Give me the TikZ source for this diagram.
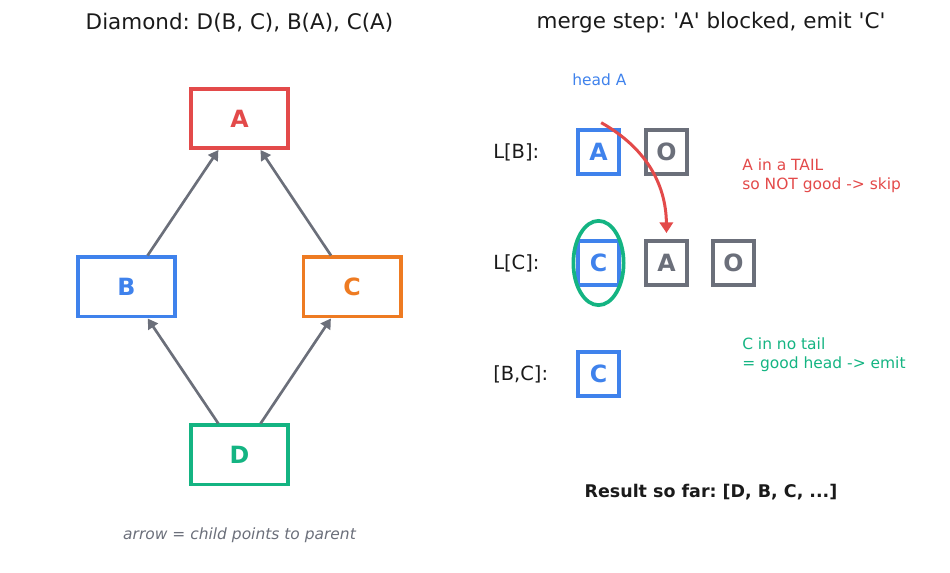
\documentclass[tikz,border=0pt]{standalone}
\usepackage{fontspec}
\setmainfont{DejaVu Sans}
\frenchspacing
\usetikzlibrary{arrows.meta, positioning, shapes.geometric}
\definecolor{headred}{HTML}{E34A4A}
\definecolor{headblue}{HTML}{3F82EC}
\definecolor{headorange}{HTML}{EE7B22}
\definecolor{headgreen}{HTML}{14B482}
\definecolor{tailgrey}{HTML}{6B6F7A}
\definecolor{inkblack}{HTML}{1A1A1A}
\tikzset{
  dagbox/.style={rectangle, draw=#1, text=#1, line width=2.8pt,
                 minimum width=72.95pt, minimum height=44.45pt, inner sep=0,
                 font=\fontsize{17.8}{21}\selectfont\bfseries},
  cellbox/.style={rectangle, draw=#1, text=#1, line width=2.8pt,
                  minimum width=30.95pt, minimum height=33.2pt, inner sep=0,
                  font=\fontsize{17.8}{21}\selectfont\bfseries},
  parentlink/.style={-{Triangle[length=7.5pt,width=8.5pt]}, line width=2pt, draw=tailgrey},
  skiparrow/.style={-{Triangle[length=8pt,width=10pt]}, line width=2.25pt, draw=headred},
  goodring/.style={ellipse, draw=headgreen, line width=2.8pt, inner sep=0,
                   minimum width=37.7pt, minimum height=63.2pt},
  paneltitle/.style={text=inkblack, font=\fontsize{16.1}{19}\selectfont},
  rowlabel/.style={anchor=west, inner sep=0, text=inkblack, font=\fontsize{14.6}{17}\selectfont},
  notetext/.style={anchor=west, inner sep=0, align=left, font=\fontsize{11.6}{13.9}\selectfont},
}

\begin{document}
\frenchspacing
\begin{tikzpicture}[x=0.75pt, y=-0.75pt, node distance=17.25pt]
  \useasboundingbox (0,0) rectangle (950,573);

  % left panel: the diamond
  \node[paneltitle] (ltitle) at (239.5,23) {Diamond: D(B, C), B(A), C(A)};
  \node[dagbox=headred]    (A) at (239.5,118.5) {A};
  \node[dagbox=headblue]   (B) at (126.5,287)   {B};
  \node[dagbox=headorange] (C) at (352,287)     {C};
  \node[dagbox=headgreen]  (D) at (239.5,455)   {D};

  \draw[parentlink] (B) -- (A);
  \draw[parentlink] (C) -- (A);
  \draw[parentlink] (D) -- (B);
  \draw[parentlink] (D) -- (C);

  \node[text=tailgrey, font=\fontsize{11.6}{13.9}\selectfont\itshape] (caption) at (239.5,535)
        {arrow = child points to parent};

  % right panel: one merge step
  \node[paneltitle] (rtitle) at (711,23)
        {merge step: \textquotesingle A\textquotesingle{} blocked, emit \textquotesingle C\textquotesingle};
  \node[notetext, text=headblue] (headA) at (572,80) {head A};

  \node[rowlabel] (LBlabel) at (493,152) {L[B]:};
  \node[cellbox=headblue] (LBa) at (598.5,152) {A};
  \node[cellbox=tailgrey, right=of LBa] (LBo) {O};

  \node[rowlabel] (LClabel) at (493,263) {L[C]:};
  \node[cellbox=headblue] (LCc) at (598.5,263) {C};
  \node[cellbox=tailgrey, right=of LCc] (LCa) {A};
  \node[cellbox=tailgrey, right=16.5pt of LCa] (LCo) {O};
  \node[goodring] (ring) at (LCc) {};

  \node[rowlabel] (BClabel) at (493,374) {[B,C]:};
  \node[cellbox=headblue] (BCc) at (598.5,374) {C};

  \node[notetext, text=headred] (skipnote) at (742,176)
        {A in a TAIL\\so NOT good -> skip};
  \node[notetext, text=headgreen] (emitnote) at (742,354.5)
        {C in no tail\\= good head -> emit};

  \draw[skiparrow] ([xshift=2pt,yshift=4pt]LBa.north) to[bend left=30] ([yshift=4.5pt]LCa.north);

  \node[text=inkblack, font=\fontsize{13.1}{16}\selectfont\bfseries] (result) at (711,492)
        {Result so far: [D, B, C, ...]};
\end{tikzpicture}
\end{document}
